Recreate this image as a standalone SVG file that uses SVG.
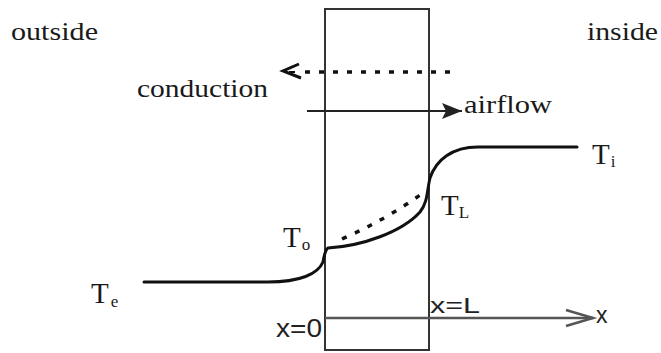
<svg xmlns="http://www.w3.org/2000/svg" width="661" height="353" viewBox="0 0 661 353">
<style>
.serif{font-family:"Liberation Serif","Times New Roman",serif;fill:#1a1a1a}
.sans{font-family:"Liberation Sans",Arial,sans-serif;fill:#222}
.frame{fill:none;stroke:#333;stroke-width:2}
.curve{fill:none;stroke:#111;stroke-width:3;stroke-linecap:round}
.dot{fill:none;stroke:#111;stroke-width:3.5;stroke-dasharray:5 9}
</style>
<defs>
<marker id="fillhead" markerWidth="22" markerHeight="18" refX="20" refY="8" orient="auto" markerUnits="userSpaceOnUse">
<path d="M0,0 L20,8 L0,16 L4,8 Z" fill="#222"/>
</marker>
</defs>
<rect width="661" height="353" fill="#fff"/>
<g id="wall">
<rect class="frame" x="325" y="9" width="104" height="341"/>
</g>
<g id="labels">
<text class="serif" x="11" y="40" font-size="26" textLength="87" lengthAdjust="spacingAndGlyphs">outside</text>
<text class="serif" x="587" y="40" font-size="26" textLength="71" lengthAdjust="spacingAndGlyphs">inside</text>
<text class="serif" x="137" y="97" font-size="26" textLength="131" lengthAdjust="spacingAndGlyphs">conduction</text>
<text class="serif" x="464" y="113" font-size="26" textLength="88" lengthAdjust="spacingAndGlyphs">airflow</text>
</g>
<g id="temps">
<text class="serif" x="592" y="164" font-size="29">T<tspan font-size="17" dy="3" dx="1">i</tspan></text>
<text class="serif" x="441" y="215" font-size="29">T<tspan font-size="17" dy="3" dx="0">L</tspan></text>
<text class="serif" x="283" y="247" font-size="29">T<tspan font-size="17" dy="3" dx="1">o</tspan></text>
<text class="serif" x="91" y="303" font-size="29">T<tspan font-size="17" dy="4" dx="2">e</tspan></text>
</g>
<g id="axis-labels">
<text class="sans" x="276" y="337" font-size="25" textLength="46" lengthAdjust="spacingAndGlyphs">x=0</text>
<text class="sans" x="430" y="313" font-size="22" textLength="50" lengthAdjust="spacingAndGlyphs">x=L</text>
<text class="sans" x="596" y="323" font-size="23">x</text>
</g>
<g id="connectors">
<line x1="325" y1="318" x2="593" y2="318" stroke="#555" stroke-width="2.5"/>
<polyline points="566,310 593,318 566,326" fill="none" stroke="#555" stroke-width="2.5"/>
<line class="dot" x1="305" y1="72" x2="458" y2="72"/>
<polyline points="299,64 283,71 301,78" fill="none" stroke="#111" stroke-width="3" stroke-linejoin="miter"/>
<line x1="289" y1="72" x2="295" y2="72" stroke="#111" stroke-width="2"/>
<line x1="307" y1="111" x2="462" y2="111" stroke="#222" stroke-width="2" marker-end="url(#fillhead)"/>
<path class="curve" d="M144,282 L268,282 C300,282 318,274 323,262 Q325,250 328,248 C362,246 402,232 420,212 C428,202 427,190 430,178 C436,160 452,147 478,147 L577,147"/>
<path class="dot" d="M342,239 Q385,220 420,195"/>
</g>
</svg>
